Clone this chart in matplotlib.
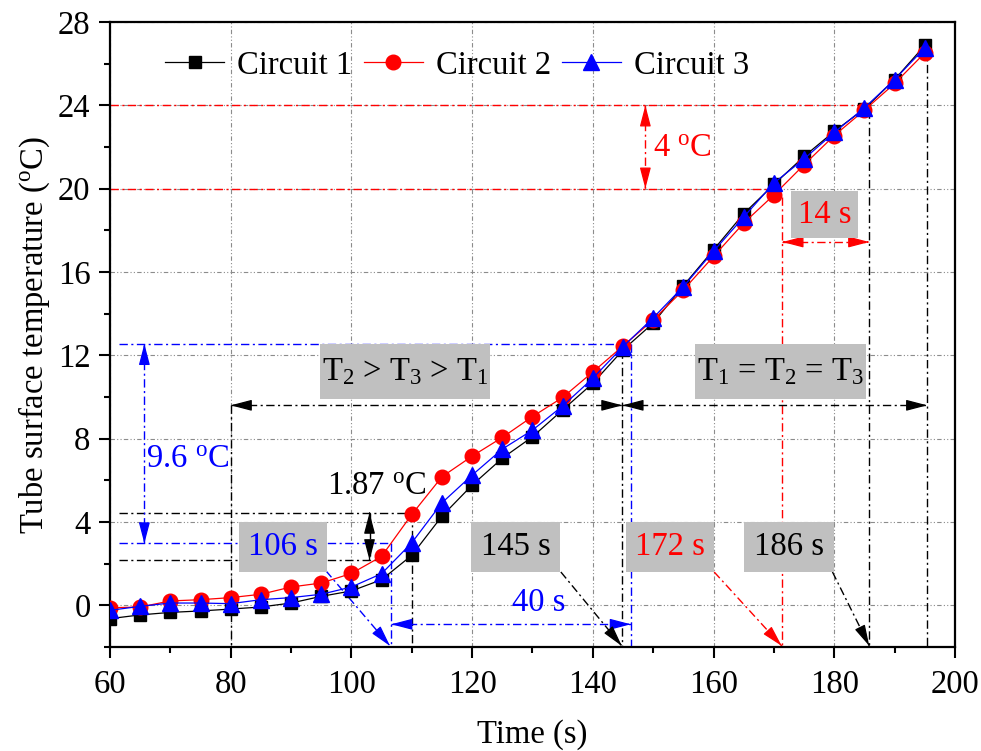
import matplotlib
matplotlib.use("Agg")
import matplotlib.pyplot as plt
from matplotlib.patches import Rectangle

plt.rcParams["font.family"] = ["Liberation Serif", "DejaVu Serif"]
plt.rcParams["mathtext.fontset"] = "custom"
plt.rcParams["mathtext.rm"] = "Liberation Serif"
plt.rcParams["mathtext.it"] = "Liberation Serif:italic"
plt.rcParams["font.size"] = 23.5

time_s = [60, 65, 70, 75, 80, 85, 90, 95, 100, 105, 110, 115, 120, 125,
          130, 135, 140, 145, 150, 155, 160, 165, 170, 175, 180, 185, 190, 195]
circuit1 = [-0.64, -0.46, -0.34, -0.27, -0.18, -0.08, 0.11, 0.43, 0.69, 1.23,
            2.40, 4.28, 5.77, 7.06, 8.09, 9.38, 10.66, 12.26, 13.55, 15.34,
            17.07, 18.80, 20.20, 21.55, 22.75, 23.83, 25.24, 26.88]
circuit2 = [-0.12, -0.08, 0.21, 0.27, 0.37, 0.53, 0.88, 1.07, 1.53, 2.35,
            4.36, 6.17, 7.16, 8.06, 9.06, 9.98, 11.20, 12.45, 13.70, 15.14,
            16.75, 18.35, 19.70, 21.15, 22.55, 23.77, 25.05, 26.52]
circuit3 = [-0.24, -0.05, 0.11, 0.11, 0.08, 0.27, 0.37, 0.53, 0.88, 1.52,
            3.00, 4.92, 6.25, 7.50, 8.41, 9.57, 10.90, 12.42, 13.80, 15.30,
            17.00, 18.64, 20.27, 21.43, 22.70, 23.88, 25.24, 26.76]

GRAY_BOX = "#c0c0c0"
DD = (0, (6, 2.5, 1.5, 2.5))

fig = plt.figure(figsize=(9.81, 7.51), dpi=100)
ax = fig.add_axes([0.1121, 0.1385, 0.8614, 0.8322])
ax.set_xlim(60, 200)
ax.set_ylim(-2, 28)
ax.set_xticks(range(60, 201, 20))
ax.set_xticks(range(70, 200, 20), minor=True)
ax.set_yticks(range(0, 29, 4))
ax.set_yticks(range(-2, 28, 4), minor=True)
ax.tick_params(which="major", direction="out", length=8, width=1.5, pad=6)
ax.tick_params(which="minor", direction="out", length=4.5, width=1.5)
ax.tick_params(axis="x", which="major", pad=8)
for s in ax.spines.values():
    s.set_linewidth(1.6)
ax.grid(True, which="major", color="#8c8c8c", lw=0.8,
        linestyle=(0, (4, 2, 1, 2, 1, 2)))
ax.set_axisbelow(True)
ax.set_xlabel("Time (s)", labelpad=14)
ax.set_ylabel("Tube surface temperature ($^{\\mathrm{o}}$C)", labelpad=4)


def dline(xs, ys, c):
    ax.plot(xs, ys, color=c, lw=1.0, linestyle=DD, zorder=2)


def head(x0, y0, x1, y1, c):
    # solid arrowhead at (x1, y1), pointing from (x0, y0)
    fx = x1 - (x1 - x0) * 0.02
    fy = y1 - (y1 - y0) * 0.02
    ax.annotate("", xy=(x1, y1), xytext=(fx, fy),
                arrowprops=dict(arrowstyle="-|>,head_length=0.65,head_width=0.17",
                                mutation_scale=20, color=c, lw=0.9,
                                shrinkA=0, shrinkB=0), zorder=3)


def arrow(x0, y0, x1, y1, c, both=False):
    dline([x0, x1], [y0, y1], c)
    head(x0, y0, x1, y1, c)
    if both:
        head(x1, y1, x0, y0, c)


# reference lines
dline([60, 185], [24, 24], "red")
dline([60, 170], [20, 20], "red")
dline([61.5, 146.3], [12.55, 12.55], "blue")
dline([61.5, 110], [4.45, 4.45], "black")
dline([61.5, 106.6], [2.97, 2.97], "blue")
dline([61.5, 105], [2.16, 2.16], "black")

dline([80, 80], [9.6, -2], "black")
dline([110, 110], [4.45, -2], "black")
dline([106.6, 106.6], [2.97, -2], "blue")
dline([144.9, 144.9], [12.26, -2], "black")
dline([146.3, 146.3], [12.55, -2], "blue")
dline([171.4, 171.4], [19.6, -2], "red")
dline([185.8, 185.8], [23.8, -2], "black")
dline([195.4, 195.4], [26.8, -2], "black")

# dimension arrows
arrow(148.7, 24, 148.7, 20, "red", both=True)
arrow(171.4, 17.44, 185.8, 17.44, "red", both=True)
arrow(80, 9.6, 144.9, 9.6, "black", both=True)
arrow(144.9, 9.6, 195.4, 9.6, "black", both=True)
arrow(65.7, 12.55, 65.7, 2.97, "blue", both=True)
arrow(103, 4.45, 103, 2.16, "black", both=True)
arrow(106.6, -0.91, 146.3, -0.91, "blue", both=True)

# pointer arrows from labels
arrow(95.8, 1.65, 106.4, -1.95, "blue")
arrow(134.7, 1.6, 144.8, -1.95, "black")
arrow(160.1, 1.6, 171.3, -1.95, "red")
arrow(179.7, 1.6, 185.8, -1.95, "black")

# gray label boxes
boxes = [
    (81.3, 1.6, 14.6, 2.4, "106 s", "blue"),
    (119.8, 1.6, 14.8, 2.4, "145 s", "black"),
    (145.5, 1.6, 14.6, 2.4, "172 s", "red"),
    (165.1, 1.6, 14.8, 2.4, "186 s", "black"),
    (172.9, 17.63, 11.1, 2.24, "14 s", "red"),
    (94.8, 9.9, 28.2, 2.65, "T$_2$ > T$_3$ > T$_1$", "black"),
    (157.0, 9.9, 28.2, 2.65, "T$_1$ = T$_2$ = T$_3$", "black"),
]
for bx, by, bw, bh, txt, c in boxes:
    ax.add_patch(Rectangle((bx, by), bw, bh, fc=GRAY_BOX, ec="none", zorder=4))
    ax.text(bx + bw / 2, by + bh / 2, txt, color=c, ha="center", va="center",
            zorder=5)

ax.text(150, 21.9, "4 $^{\\mathrm{o}}$C", color="red", va="center")
ax.text(66, 7.0, "9.6 $^{\\mathrm{o}}$C", color="blue", va="center")
ax.text(96, 5.7, "1.87 $^{\\mathrm{o}}$C", color="black", va="center")
ax.text(131, 0.1, "40 s", color="blue", ha="center", va="center")

# data series
ax.plot(time_s, circuit1, color="black", lw=0.9, marker="s", ms=9,
        label="Circuit 1", zorder=6)
ax.plot(time_s, circuit2, color="red", lw=0.9, marker="o", ms=10.5,
        label="Circuit 2", zorder=7)
ax.plot(time_s, circuit3, color="blue", lw=0.9, marker="^", ms=11,
        label="Circuit 3", zorder=8)

ax.legend(loc="upper left", bbox_to_anchor=(0.05, 0.976), ncol=3,
          frameon=False, handlelength=1.8, handletextpad=0.4,
          columnspacing=0.35, borderaxespad=0)

fig.savefig("out.png", dpi=100)
